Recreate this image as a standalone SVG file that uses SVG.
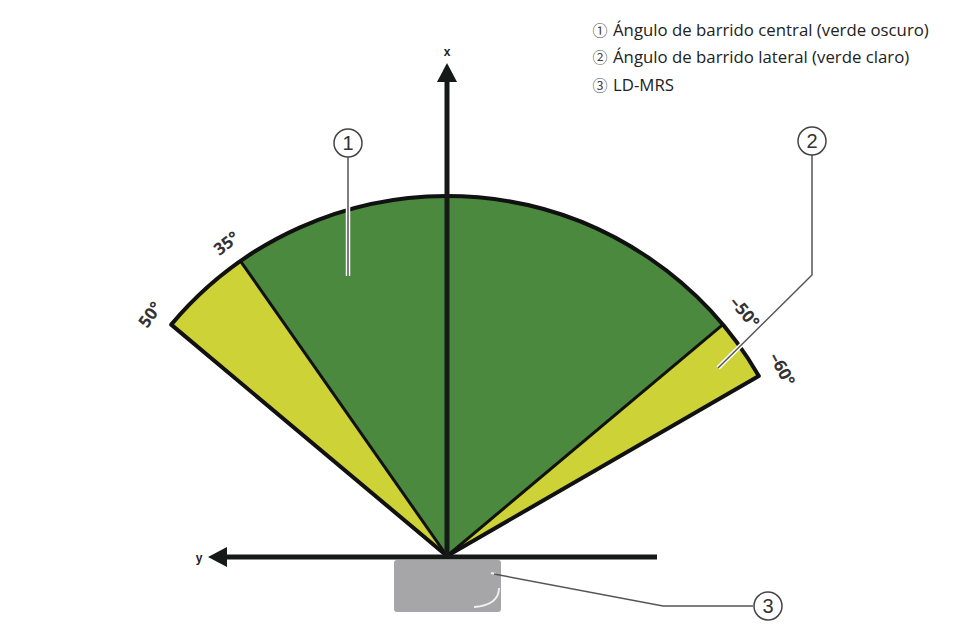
<svg xmlns="http://www.w3.org/2000/svg" width="973" height="639" viewBox="0 0 973 639">
<defs>
<style>
.dark{fill:#4b8a3e}
.light{fill:#cdd236}
.edge{fill:none;stroke:#111;stroke-width:4;stroke-linejoin:round}
.div{stroke:#111;stroke-width:3}
.axis{stroke:#151a18;stroke-width:5}
.head{fill:#151a18}
.ang{font-family:"Open Sans","Liberation Sans",sans-serif;font-weight:bold;font-size:17px;fill:#333;text-anchor:middle}
.axl{font-family:"Liberation Sans",sans-serif;font-weight:bold;font-size:12px;fill:#222;text-anchor:middle}
.leg{font-family:"Open Sans","Liberation Sans",sans-serif;font-size:16.8px;fill:#222}
.legn{font-family:"Noto Sans CJK JP","DejaVu Sans",sans-serif;font-size:15px;fill:#444;text-anchor:middle}
.halo{fill:none;stroke:#fff;stroke-width:4.5}
.lead{fill:none;stroke:#555;stroke-width:1.5}
.cc{fill:#fff;stroke:#444;stroke-width:1.5}
.cn{font-family:"Liberation Sans",sans-serif;font-size:20px;fill:#333;text-anchor:middle}
</style>
</defs>
<rect width="973" height="639" fill="#fff"/>

<g id="legend">
<text class="legn" x="600" y="36">①</text>
<text class="leg" x="613" y="36">Ángulo de barrido central (verde oscuro)</text>
<text class="legn" x="600" y="63">②</text>
<text class="leg" x="613" y="63">Ángulo de barrido lateral (verde claro)</text>
<text class="legn" x="600" y="91">③</text>
<text class="leg" x="613" y="91">LD-MRS</text>
</g>

<g id="sensor">
<rect x="394" y="560" width="107" height="52" rx="3" fill="#a6a6a8"/>
<path d="M499,588 Q499,605 474,607" fill="none" stroke="#f2f2f2" stroke-width="1.8"/>
<path d="M491,573 L496,574" stroke="#eee" stroke-width="2"/>
</g>

<g id="scan-field">
<path class="light" d="M447,556 L171.2,324.6 A360,360 0 0 1 240.5,261.1 Z"/>
<path class="dark" d="M447,556 L240.5,261.1 A360,360 0 0 1 722.8,324.6 Z"/>
<path class="light" d="M447,556 L722.8,324.6 A360,360 0 0 1 758.8,376 Z"/>
<line class="div" x1="447" y1="556" x2="240.5" y2="261.1"/>
<line class="div" x1="447" y1="556" x2="722.8" y2="324.6"/>
<path class="edge" d="M447,556 L171.2,324.6 A360,360 0 0 1 758.8,376 Z"/>
</g>

<g id="axes">
<line class="axis" x1="447" y1="557" x2="447" y2="78"/>
<polygon class="head" points="447,63 437,82 457,82"/>
<text class="axl" x="447" y="56">x</text>
<line class="axis" x1="657" y1="557" x2="222" y2="557"/>
<polygon class="head" points="208,557 227,547 227,567"/>
<text class="axl" x="199" y="562">y</text>
</g>

<g id="angle-labels">
<text class="ang" transform="translate(155,318) rotate(-55)">50°</text>
<text class="ang" transform="translate(230,248) rotate(-38)">35°</text>
<text class="ang" transform="translate(740,316) rotate(50)">–50°</text>
<text class="ang" transform="translate(777,372) rotate(62)">–60°</text>
</g>

<g id="connectors">
<path class="halo" d="M348,157 L348,276"/>
<path class="lead" d="M348,157 L348,276"/>
<path class="halo" d="M812,155 L812,275 L718,368"/>
<path class="lead" d="M812,155 L812,275 L718,368"/>
<path class="lead" d="M494,574 L663,606 L753,606"/>
</g>

<g id="callout-1">
<circle class="cc" cx="348" cy="143" r="14"/>
<text class="cn" x="348" y="150">1</text>
</g>
<g id="callout-2">
<circle class="cc" cx="812" cy="141" r="14"/>
<text class="cn" x="812" y="148">2</text>
</g>
<g id="callout-3">
<circle class="cc" cx="768" cy="606" r="14"/>
<text class="cn" x="768" y="613">3</text>
</g>
</svg>
